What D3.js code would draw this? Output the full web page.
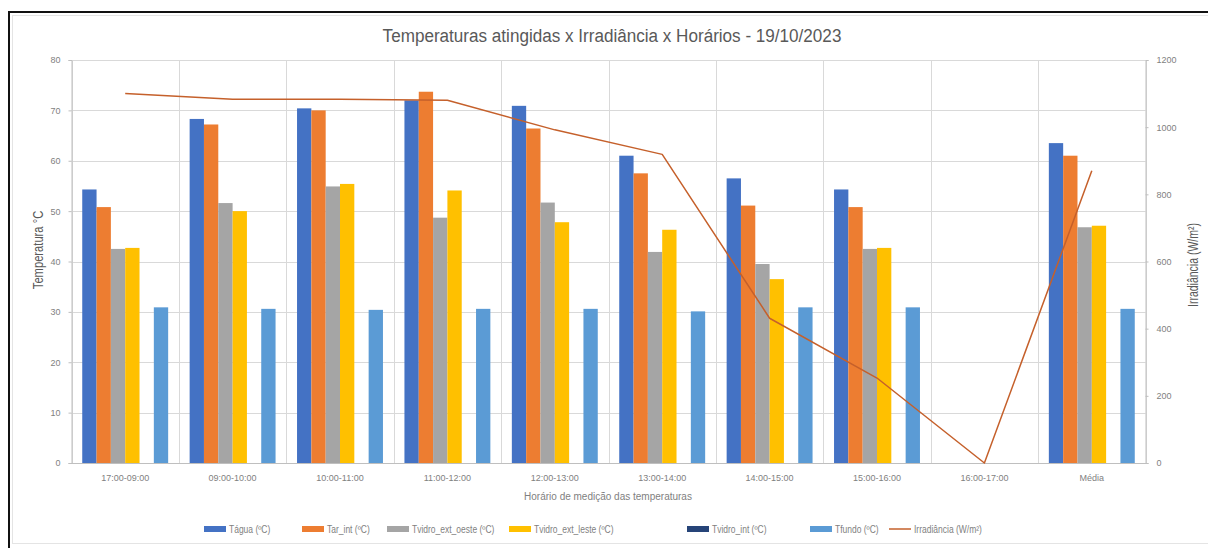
<!DOCTYPE html>
<html>
<head>
<meta charset="utf-8">
<script src="https://cdn.jsdelivr.net/npm/d3@7"></script>
<style>
  html, body { margin: 0; padding: 0; background: #fff; }
  svg { display: block; }
</style>
</head>
<body>
<svg id="chart" width="1208" height="548"></svg>
<script>
// Measurement periods
const categories = ["17:00-09:00", "09:00-10:00", "10:00-11:00", "11:00-12:00", "12:00-13:00",
                    "13:00-14:00", "14:00-15:00", "15:00-16:00", "16:00-17:00", "Média"];

// Temperatures (°C) per period
const tAgua        = [54.3, 68.3, 70.4, 72.0, 70.9, 61.0, 56.5, 54.3, null, 63.5];
const tArInt       = [50.8, 67.2, 70.0, 73.7, 66.4, 57.5, 51.1, 50.8, null, 61.0];
const tVidroOeste  = [42.5, 51.6, 54.9, 48.7, 51.7, 41.9, 39.5, 42.5, null, 46.8];
const tVidroLeste  = [42.7, 50.0, 55.4, 54.1, 47.8, 46.3, 36.5, 42.7, null, 47.1];
const tVidroInt    = [null, null, null, null, null, null, null, null, null, null];
const tFundo       = [30.9, 30.6, 30.4, 30.6, 30.6, 30.1, 30.9, 30.9, null, 30.6];

// Irradiance (W/m²) per period
const irradiancia  = [1100, 1083, 1083, 1080, 992, 919, 431, 253, 0, 870];

// Axis ticks
const tempTicks = [0, 10, 20, 30, 40, 50, 60, 70, 80];
const irrTicks  = [0, 200, 400, 600, 800, 1000, 1200];

const seriesNames  = ["Tágua (ºC)", "Tar_int (ºC)", "Tvidro_ext_oeste (ºC)", "Tvidro_ext_leste (ºC)", "Tvidro_int (ºC)", "Tfundo (ºC)"];
const seriesValues = [tAgua, tArInt, tVidroOeste, tVidroLeste, tVidroInt, tFundo];
const seriesColors = ["#4472C4", "#ED7D31", "#A5A5A5", "#FFC000", "#264478", "#5B9BD5"];
const lineName  = "Irradiância (W/m²)";
const lineColor = "#C5602B";

const svg = d3.select("#chart");
const W = 1208, H = 548;
const plot = { left: 71.5, right: 1145.5, top: 60, bottom: 463 };

// chart frame
svg.append("rect").attr("x", 9).attr("y", 12).attr("width", W).attr("height", H)
  .attr("fill", "#fff").attr("stroke", "#111").attr("stroke-width", 2);
svg.append("rect").attr("x", 12.5).attr("y", 15.5).attr("width", W).attr("height", H - 20)
  .attr("fill", "none").attr("stroke", "#e4e4e4").attr("stroke-width", 1);

const x0 = d3.scaleBand().domain(categories).range([plot.left, plot.right]).paddingInner(0).paddingOuter(0);
const x1 = d3.scaleBand().domain(d3.range(seriesNames.length)).range([0, x0.bandwidth()])
  .paddingInner(0).paddingOuter(0.75);
const yT = d3.scaleLinear().domain([0, 80]).range([plot.bottom, plot.top]);
const yI = d3.scaleLinear().domain([0, 1200]).range([plot.bottom, plot.top]);

const grid = "#d9d9d9";
const font = "'Liberation Sans', Arial, sans-serif";

// horizontal gridlines
svg.append("g").selectAll("line").data(tempTicks).join("line")
  .attr("x1", plot.left).attr("x2", plot.right)
  .attr("y1", d => Math.round(yT(d)) + 0.5).attr("y2", d => Math.round(yT(d)) + 0.5)
  .attr("stroke", grid).attr("stroke-width", 1);

// vertical category separators
const bounds = categories.map(c => x0(c)).concat([plot.right]);
svg.append("g").selectAll("line").data(bounds).join("line")
  .attr("x1", d => Math.round(d) + 0.5).attr("x2", d => Math.round(d) + 0.5)
  .attr("y1", plot.top).attr("y2", plot.bottom)
  .attr("stroke", grid).attr("stroke-width", 1);

// left axis
const axL = svg.append("g").attr("transform", `translate(${plot.left},0)`)
  .call(d3.axisLeft(yT).tickValues(tempTicks).tickSize(3).tickPadding(8));
axL.select(".domain").attr("stroke", "#bfbfbf");
axL.selectAll(".tick line").attr("stroke", "#bfbfbf");
axL.selectAll("text").attr("fill", "#7f7f7f").style("font", `9px ${font}`);

// right axis
const axR = svg.append("g").attr("transform", `translate(${plot.right},0)`)
  .call(d3.axisRight(yI).tickValues(irrTicks).tickFormat(d3.format("d")).tickSize(3).tickPadding(8));
axR.select(".domain").attr("stroke", "#bfbfbf");
axR.selectAll(".tick line").attr("stroke", "#bfbfbf");
axR.selectAll("text").attr("fill", "#7f7f7f").style("font", `9px ${font}`);

// bottom axis
const axB = svg.append("g").attr("transform", `translate(0,${plot.bottom})`)
  .call(d3.axisBottom(x0).tickSize(0).tickPadding(12));
axB.select(".domain").attr("stroke", "#bfbfbf");
axB.selectAll("text").attr("fill", "#7f7f7f").style("font", `9px ${font}`);

// bars
const barG = svg.append("g");
seriesValues.forEach((vals, si) => {
  barG.append("g").selectAll("rect")
    .data(categories.map((c, i) => ({ c, v: vals[i] })).filter(d => d.v != null))
    .join("rect")
    .attr("x", d => x0(d.c) + x1(si))
    .attr("width", x1.bandwidth())
    .attr("y", d => yT(d.v))
    .attr("height", d => yT(0) - yT(d.v))
    .attr("fill", seriesColors[si]);
});

// irradiance line
const line = d3.line()
  .x((d, i) => x0(categories[i]) + x0.bandwidth() / 2)
  .y(d => yI(d));
svg.append("path").datum(irradiancia)
  .attr("d", line).attr("fill", "none")
  .attr("stroke", lineColor).attr("stroke-width", 1.5).attr("stroke-linejoin", "round");

// title (condensed)
svg.append("text").attr("transform", "translate(612,42) scale(0.9,1)").attr("text-anchor", "middle")
  .attr("fill", "#595959").style("font", `19px ${font}`)
  .text("Temperaturas atingidas x Irradiância x Horários - 19/10/2023");

// axis titles (condensed)
svg.append("text").attr("transform", `translate(43,250) rotate(-90) scale(0.8,1)`)
  .attr("text-anchor", "middle").attr("fill", "#595959").style("font", `14px ${font}`)
  .text("Temperatura °C");
svg.append("text").attr("transform", `translate(1198,265) rotate(-90) scale(0.75,1)`)
  .attr("text-anchor", "middle").attr("fill", "#595959").style("font", `14px ${font}`)
  .text("Irradiância (W/m²)");
svg.append("text").attr("x", 608).attr("y", 500).attr("text-anchor", "middle")
  .attr("fill", "#7f7f7f").style("font", `10px ${font}`)
  .text("Horário de medição das temperaturas");

// legend
const legendItems = seriesNames.map((n, i) => ({ name: n, color: seriesColors[i], type: "bar" }))
  .concat([{ name: lineName, color: lineColor, type: "line" }]);
const legendX = [204, 302, 387, 509, 687, 810, 889];
const lg = svg.append("g").attr("transform", "translate(0,529)");
legendItems.forEach((it, i) => {
  const g = lg.append("g").attr("transform", `translate(${legendX[i]},0)`);
  if (it.type === "bar") {
    g.append("rect").attr("x", 0).attr("y", -3).attr("width", 22).attr("height", 6).attr("fill", it.color);
  } else {
    g.append("line").attr("x1", 0).attr("x2", 22).attr("y1", 0).attr("y2", 0)
      .attr("stroke", it.color).attr("stroke-width", 1.5);
  }
  g.append("text").attr("transform", "translate(25,3.5) scale(0.85,1)").attr("fill", "#7f7f7f")
    .style("font", `10px ${font}`).text(it.name);
});
</script>
</body>
</html>
